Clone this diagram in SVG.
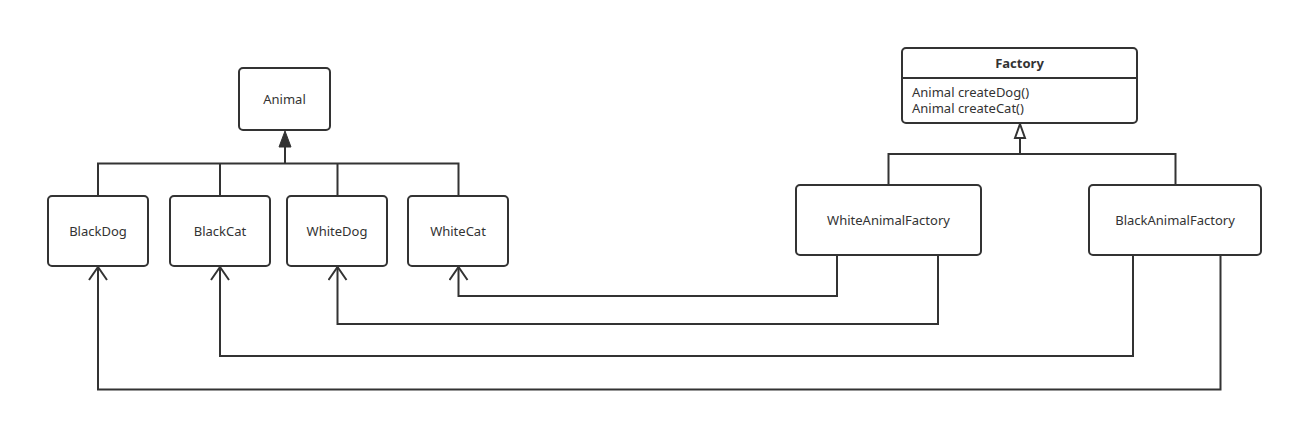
<svg xmlns="http://www.w3.org/2000/svg" width="1293" height="422" viewBox="0 0 1293 422">
<style>
.box{fill:#fff;stroke:#333;stroke-width:2}
.ln{fill:none;stroke:#333;stroke-width:2}
text{font-family:"Noto Sans","Open Sans","DejaVu Sans",sans-serif;font-size:13px;fill:#333}
.c{text-anchor:middle;dominant-baseline:central}
.b{font-weight:bold}
</style>
<defs>
<marker id="open" markerWidth="20" markerHeight="20" refX="15" refY="10" orient="auto" markerUnits="userSpaceOnUse" viewBox="0 0 20 20">
<path d="M2,1 L15,10 L2,19" fill="none" stroke="#333" stroke-width="2"/>
</marker>
</defs>
<rect width="1293" height="422" fill="#fff"/>
<g id="connectors">
<path class="ln" d="M98,196 V163.5 H458.5 V196 M220,163.5 V196 M337.5,163.5 V196"/>
<path class="ln" d="M285,163.5 V146" stroke-width="2.5"/>
<path d="M285,131 L291,147 L279,147 Z" fill="#333" stroke="#333" stroke-width="1"/>
<path class="ln" d="M888.5,185 V154 H1175.5 V185"/>
<path class="ln" d="M1020,154 V138"/>
<path d="M1020,124 L1025,138 L1015,138 Z" fill="#fff" stroke="#333" stroke-width="2"/>
<path class="ln" marker-end="url(#open)" d="M837,256 V296 H458.5 V267"/>
<path class="ln" marker-end="url(#open)" d="M938,256 V324 H337.5 V267"/>
<path class="ln" marker-end="url(#open)" d="M1133,256 V356 H220 V267"/>
<path class="ln" marker-end="url(#open)" d="M1220.5,256 V389.5 H98 V267"/>
</g>
<g id="Animal"><rect class="box" x="239" y="68" width="91" height="62" rx="4"/><text class="c" x="284.5" y="99">Animal</text></g>
<g id="BlackDog"><rect class="box" x="48" y="196" width="100" height="70" rx="4"/><text class="c" x="98" y="231">BlackDog</text></g>
<g id="BlackCat"><rect class="box" x="170" y="196" width="100" height="70" rx="4"/><text class="c" x="220" y="231">BlackCat</text></g>
<g id="WhiteDog"><rect class="box" x="287" y="196" width="100" height="70" rx="4"/><text class="c" x="337" y="231">WhiteDog</text></g>
<g id="WhiteCat"><rect class="box" x="408" y="196" width="100" height="70" rx="4"/><text class="c" x="458" y="231">WhiteCat</text></g>
<g id="Factory">
<rect class="box" x="902" y="48" width="235" height="75" rx="4"/>
<line class="ln" x1="902" y1="78" x2="1137" y2="78"/>
<text class="c b" x="1019.5" y="63">Factory</text>
<text x="912" y="97">Animal createDog()</text>
<text x="912" y="113">Animal createCat()</text>
</g>
<g id="WhiteAnimalFactory"><rect class="box" x="796" y="185" width="185" height="70" rx="4"/><text class="c" x="888.5" y="220">WhiteAnimalFactory</text></g>
<g id="BlackAnimalFactory"><rect class="box" x="1089" y="185" width="172" height="70" rx="4"/><text class="c" x="1175" y="220">BlackAnimalFactory</text></g>
</svg>
